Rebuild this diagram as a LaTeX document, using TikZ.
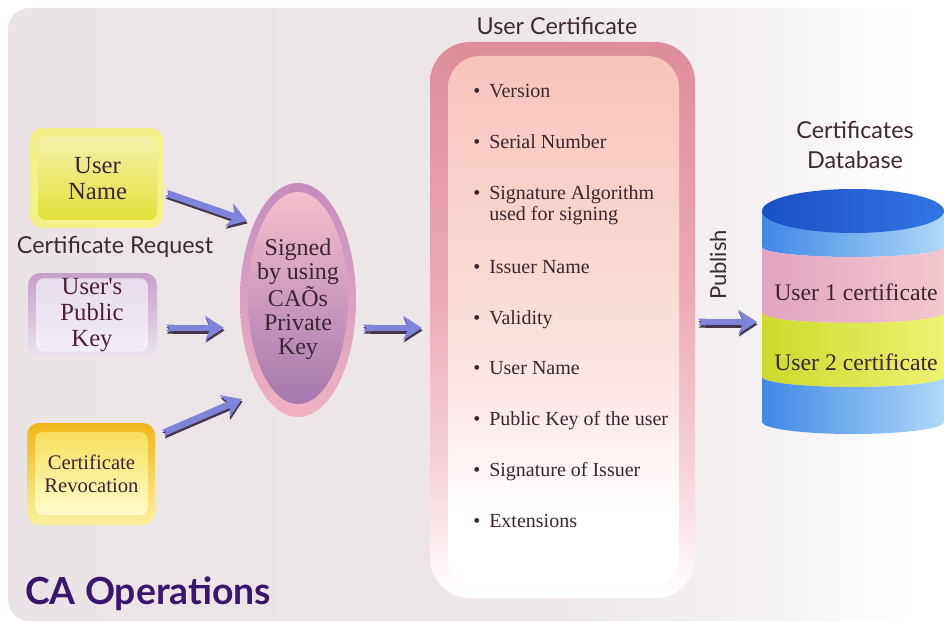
\documentclass[tikz,border=0pt]{standalone}
\usepackage{fontspec}
\setmainfont{Liberation Serif}
\newfontfamily\headfont{Lato}
\usetikzlibrary{arrows.meta,shapes.geometric}

% text colours
\definecolor{ink}{HTML}{3A2530}
\definecolor{headink}{HTML}{3E2A34}
\definecolor{titleink}{HTML}{3A1670}
% panel
\definecolor{panelA}{HTML}{EBE4E7}
\definecolor{panelB}{HTML}{EDE7EA}
\definecolor{panelC}{HTML}{F6F3F4}
% arrows
\definecolor{arrowblue}{HTML}{7F84DA}
\definecolor{arrowdark}{HTML}{45354A}
% request boxes
\definecolor{unRim}{HTML}{F4F08A}
\definecolor{unTop}{HTML}{F2F2AA}
\definecolor{unBot}{HTML}{E3E13A}
\definecolor{pkRimTop}{HTML}{C6A0C8}
\definecolor{pkRimBot}{HTML}{EAE2EE}
\definecolor{pkTop}{HTML}{E6DCEC}
\definecolor{pkBot}{HTML}{F2EEF6}
\definecolor{crRimTop}{HTML}{F0B618}
\definecolor{crRimBot}{HTML}{FAF2A0}
\definecolor{crTop}{HTML}{F8DE5C}
\definecolor{crBot}{HTML}{FFFCCC}
% signing ellipse
\definecolor{sgRimTop}{HTML}{C68DBD}
\definecolor{sgRimBot}{HTML}{F0B2C2}
\definecolor{sgTop}{HTML}{F6BECB}
\definecolor{sgBot}{HTML}{A677AE}
% certificate
\definecolor{certRimTop}{HTML}{DE8C9C}
\definecolor{certRimMid}{HTML}{ECAAB8}
\definecolor{certRimLow}{HTML}{F7D4DA}
\definecolor{certInTop}{HTML}{F8C4BC}
\definecolor{certInMid}{HTML}{FAD8D2}
\definecolor{certInLow}{HTML}{FDEAEA}
% database
\definecolor{capL}{HTML}{1A50C6}
\definecolor{capR}{HTML}{3276E2}
\definecolor{blueL}{HTML}{4088E6}
\definecolor{blueR}{HTML}{B0D8F8}
\definecolor{pinkL}{HTML}{E2A4C0}
\definecolor{pinkR}{HTML}{F4C8CE}
\definecolor{yelL}{HTML}{CCDA2C}
\definecolor{yelR}{HTML}{EEF272}

\pgfdeclarehorizontalshading{panelshade}{100bp}{%
  color(0bp)=(panelA); color(25bp)=(panelA); color(52bp)=(panelB);
  color(65bp)=(panelC); color(71bp)=(white); color(100bp)=(white)}
\pgfdeclareverticalshading{certoutershade}{100bp}{%
  color(0bp)=(white); color(25bp)=(white); color(36bp)=(certRimLow);
  color(52bp)=(certRimMid); color(75bp)=(certRimTop); color(100bp)=(certRimTop)}
\pgfdeclareverticalshading{certinnershade}{100bp}{%
  color(0bp)=(white); color(25bp)=(white); color(32bp)=(white);
  color(42bp)=(certInLow); color(55bp)=(certInMid); color(75bp)=(certInTop);
  color(100bp)=(certInTop)}

\begin{document}
\begin{tikzpicture}[x=0.75pt,y=-0.75pt,
  every node/.style={text=ink},
  boxtext/.style={align=center, inner sep=0pt, rounded corners=6pt,
    font=\fontsize{18.5}{19.5}\selectfont},
  itemtext/.style={anchor=base west, inner sep=0pt,
    font=\fontsize{15}{17}\selectfont},
  heading/.style={font=\headfont\fontsize{17.5}{22.5}\selectfont,
    text=headink, align=center, inner sep=0pt},
  dbtext/.style={font=\fontsize{17.8}{19}\selectfont, inner sep=0pt},
  arrowtips/.style={{Triangle Cap[reversed]}-{Stealth[length=14pt,width=18pt,inset=4pt]}},
  arrowshade/.style={draw=arrowdark, line width=5pt, arrowtips},
  fatarrow/.style={draw=arrowblue, line width=5pt, arrowtips},
]
\useasboundingbox (0,0) rectangle (944,623);
\clip (0,0) rectangle (944,623);

% background panel
\path[shading=panelshade, rounded corners=16] (8,8) rectangle (990,621);

% ---- certificate request ----
\path[fill=unRim, rounded corners=9] (30,128) rectangle (163,228);
\node[boxtext, minimum width=119*0.75pt, minimum height=83*0.75pt,
  top color=unTop, bottom color=unBot] (un) at (97.5,178.5) {User\\Name};

\node[heading] (req) at (115,247) {Certificate Request};

\path[top color=pkRimTop, bottom color=pkRimBot, rounded corners=9]
  (28,273) rectangle (157,357);
\node[boxtext, minimum width=112*0.75pt, minimum height=70*0.75pt,
  top color=pkTop, bottom color=pkBot, text=ink!85!purple] (pk) at (92,315)
  {User\textquotesingle s\\Public\\Key};

\path[top color=crRimTop, bottom color=crRimBot, rounded corners=9]
  (27,423) rectangle (155,525);
\node[boxtext, minimum width=113*0.75pt, minimum height=83*0.75pt,
  top color=crTop, bottom color=crBot, font=\fontsize{15.5}{17.5}\selectfont]
  (cr) at (91.5,473.5) {Certificate\\Revocation};

% ---- signing ----
\path[top color=sgRimTop, bottom color=sgRimBot]
  (298,300) ellipse [x radius=58, y radius=117];
\node[ellipse, inner sep=0pt, minimum width=100*0.75pt,
  minimum height=212*0.75pt, top color=sgTop, bottom color=sgBot]
  (sig) at (298,298) {};
\node[boxtext, font=\fontsize{18}{18}\selectfont] (sigtext) at (298,299)
  {Signed\\by using\\CAÕs\\Private\\Key};

% ---- user certificate ----
\node[heading] (certtitle) at (557,26) {User Certificate};
\path[shading=certoutershade, rounded corners=30] (430,42) rectangle (695,598);
\path[shading=certinnershade, rounded corners=24] (448,56) rectangle (679,590);
\node[itemtext] (i1) at (473,98) {\textbullet\hspace{0.45em}Version};
\node[itemtext] (i2) at (473,149) {\textbullet\hspace{0.45em}Serial Number};
\node[itemtext] (i3) at (473,200) {\textbullet\hspace{0.45em}Signature Algorithm};
\node[itemtext] (i3b) at (489,221) {used for signing};
\node[itemtext] (i4) at (473,273) {\textbullet\hspace{0.45em}Issuer Name};
\node[itemtext] (i5) at (473,324) {\textbullet\hspace{0.45em}Validity};
\node[itemtext] (i6) at (473,374) {\textbullet\hspace{0.45em}User Name};
\node[itemtext] (i7) at (473,425) {\textbullet\hspace{0.45em}Public Key of the user};
\node[itemtext] (i8) at (473,476) {\textbullet\hspace{0.45em}Signature of Issuer};
\node[itemtext] (i9) at (473,527) {\textbullet\hspace{0.45em}Extensions};

% ---- database ----
\node[heading] (dbtitle) at (855,145) {Certificates\\Database};
\node[heading, rotate=90, font=\headfont\fontsize{16.5}{18}\selectfont]
  (pub) at (718,265) {Publish};

\path[left color=blueL, right color=blueR]
  (762,211) -- (762,247) arc[start angle=180, end angle=0, x radius=91, y radius=10]
  -- (944,211) -- cycle;
\path[left color=pinkL, right color=pinkR]
  (762,247) arc[start angle=180, end angle=0, x radius=91, y radius=10]
  -- (944,313) arc[start angle=0, end angle=180, x radius=91, y radius=10] -- cycle;
\path[left color=yelL, right color=yelR]
  (762,313) arc[start angle=180, end angle=0, x radius=91, y radius=10]
  -- (944,377) arc[start angle=0, end angle=180, x radius=91, y radius=10] -- cycle;
\path[left color=blueL, right color=blueR]
  (762,377) arc[start angle=180, end angle=0, x radius=91, y radius=10]
  -- (944,422) arc[start angle=0, end angle=180, x radius=91, y radius=12] -- cycle;
\path[left color=capL, right color=capR]
  (853,211) ellipse [x radius=91, y radius=22];
\node[dbtext] (db1) at (856,292) {User 1 certificate};
\node[dbtext] (db2) at (856,362) {User 2 certificate};

% ---- arrows: dark under-stroke, then the blue arrow ----
\coordinate (a1s) at (166,193);  \coordinate (a1e) at (247,221);
\coordinate (a2s) at (166,328);  \coordinate (a2e) at (224,328);
\coordinate (a3s) at (163,433);  \coordinate (a3e) at (242,399);
\coordinate (a4s) at (363,328);  \coordinate (a4e) at (422,328);
\coordinate (a5s) at (698,322);  \coordinate (a5e) at (757,322);
\foreach \s/\e in {a1s/a1e, a2s/a2e, a3s/a3e, a4s/a4e, a5s/a5e}{
  \draw[arrowshade] ([xshift=0.4pt,yshift=-1.8pt]\s) -- ([xshift=0.4pt,yshift=-1.8pt]\e);
  \draw[fatarrow] (\s) -- (\e);
}

% ---- caption ----
\node[anchor=west, inner sep=0pt, text=titleink,
  font=\headfont\bfseries\fontsize{28}{32}\selectfont] (caption) at (25,594)
  {CA Operations};
\end{tikzpicture}
\end{document}
